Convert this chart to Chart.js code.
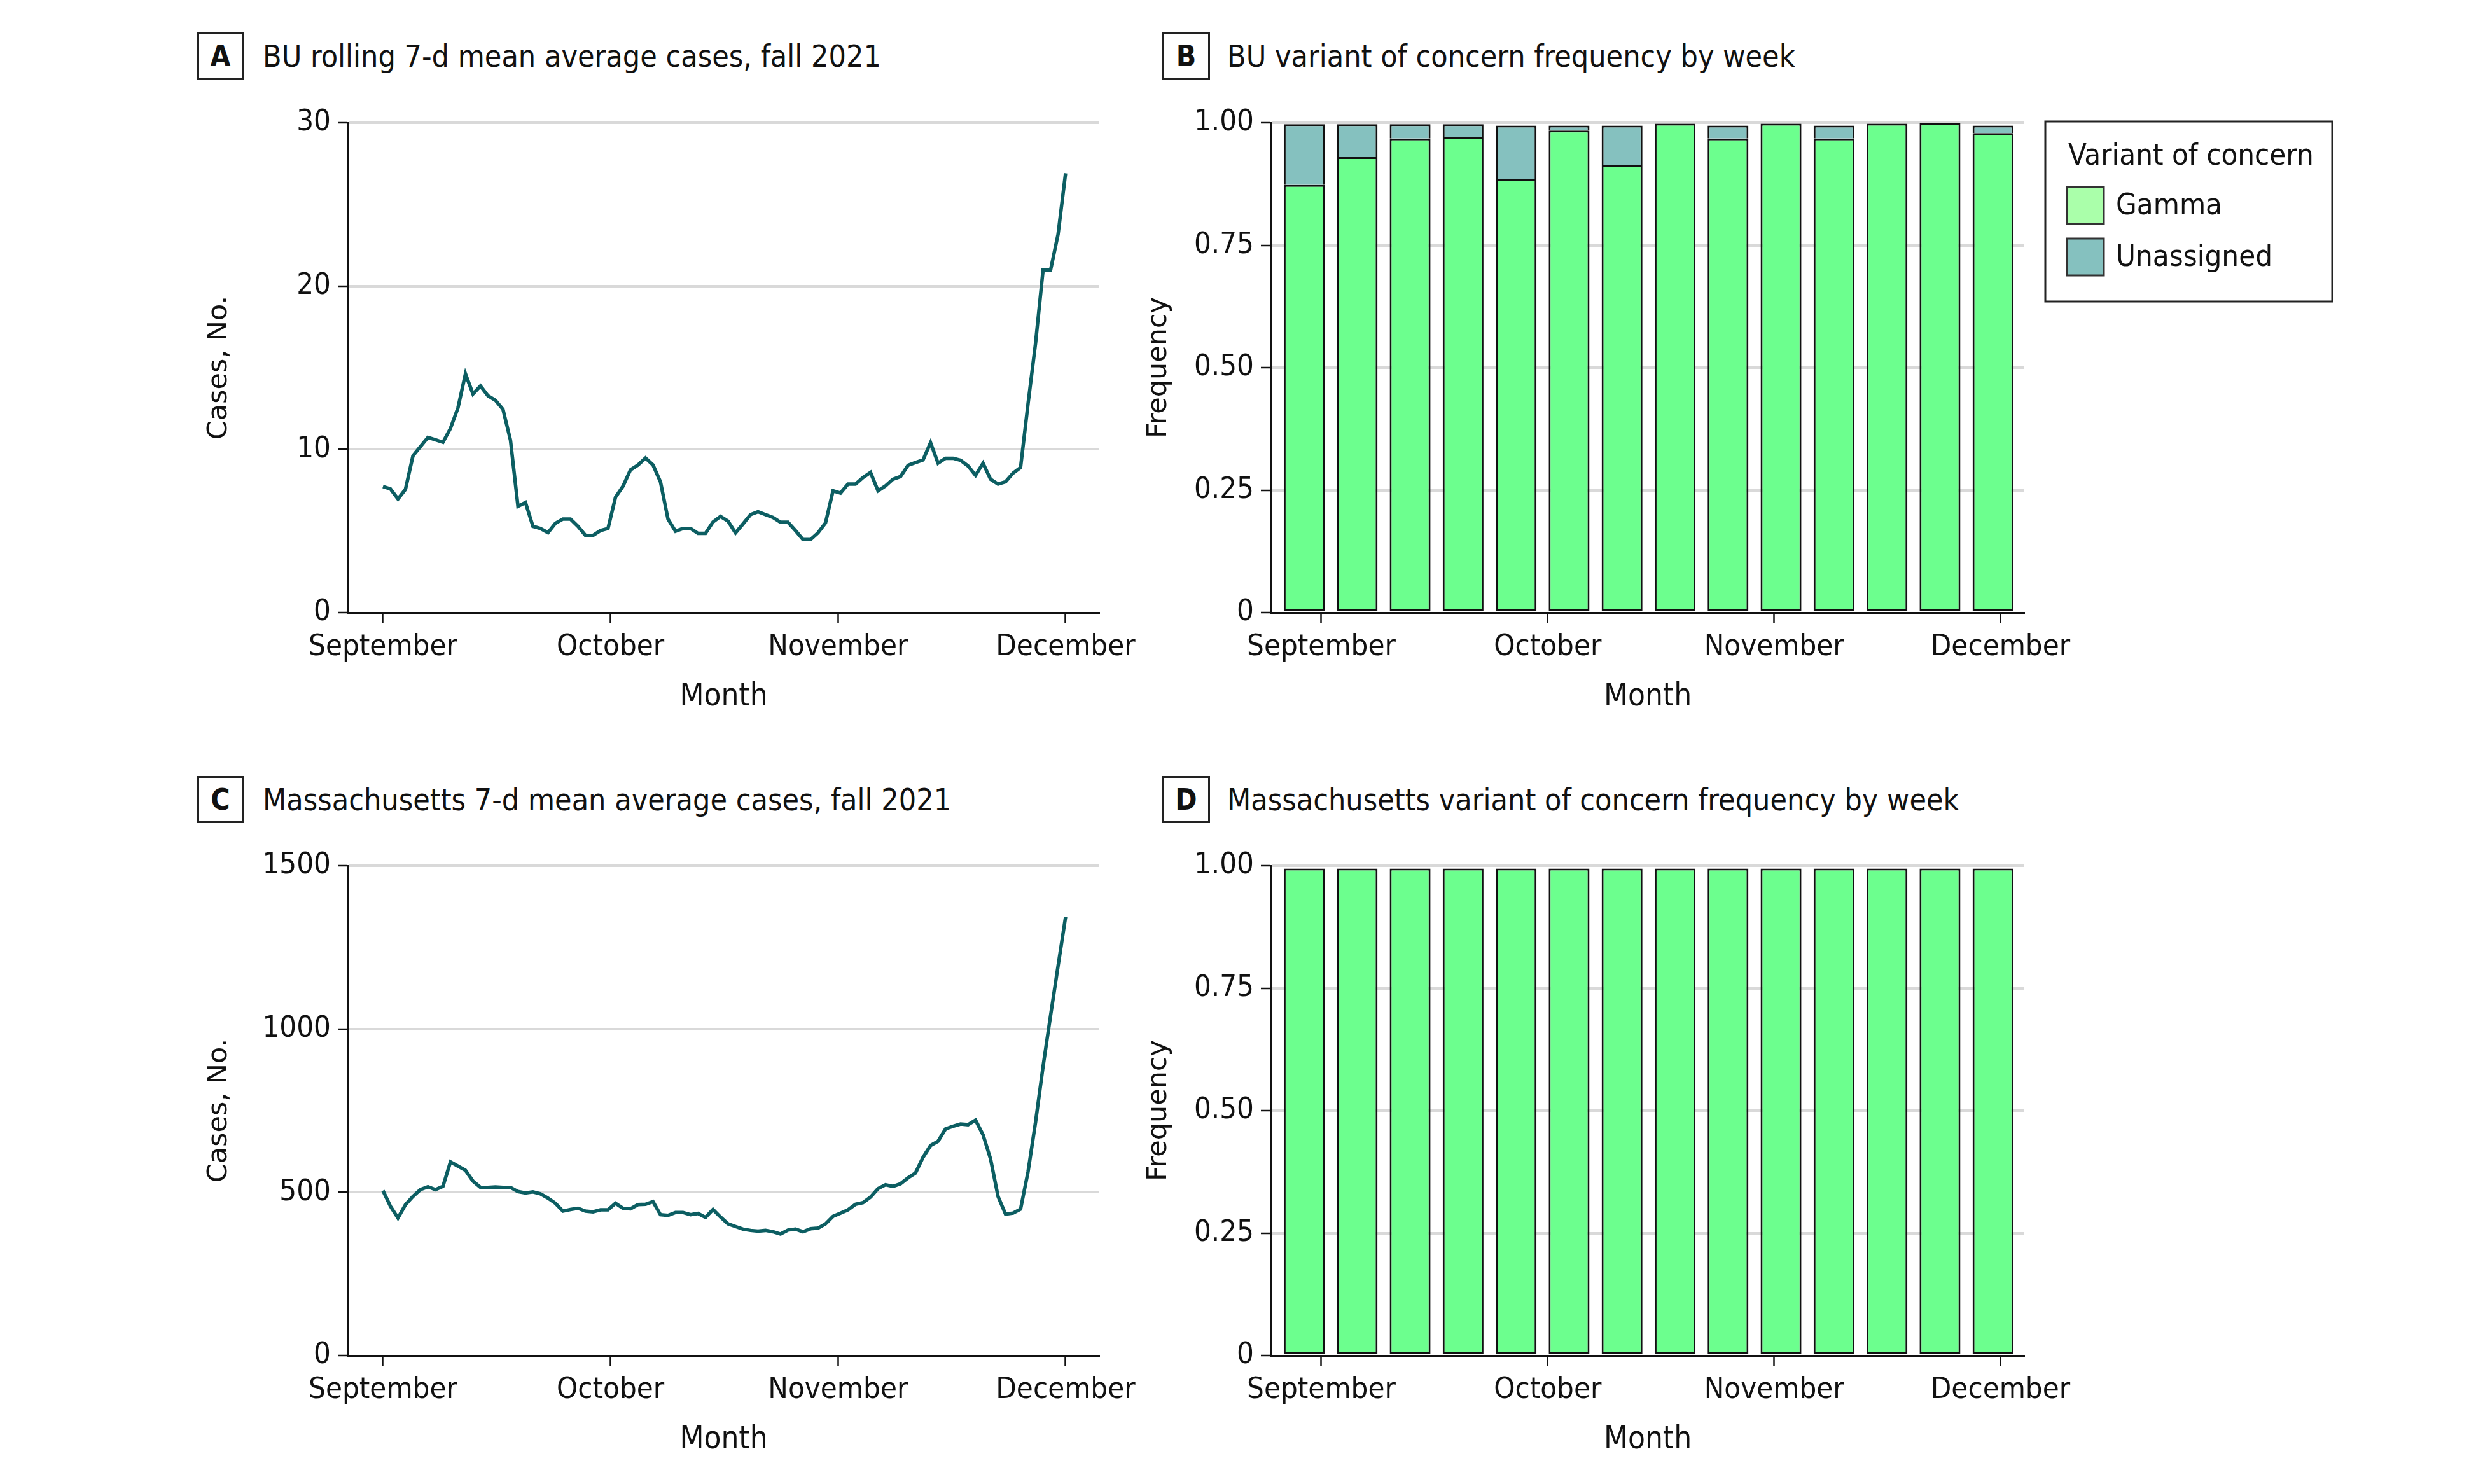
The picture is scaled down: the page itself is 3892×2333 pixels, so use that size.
<!DOCTYPE html>
<html>
<head>
<meta charset="utf-8">
<script src="https://cdn.jsdelivr.net/npm/chart.js"></script>
<style>
html, body { margin: 0; padding: 0; background: #ffffff; }
body { width: 3892px; height: 2333px; position: relative; overflow: hidden; }
canvas { position: absolute; display: block; }
.hdr { position: absolute; display: flex; align-items: center; height: 74px; }
.tag { box-sizing: border-box; width: 73px; height: 74px; border: 3px solid #222; display: flex; align-items: center; justify-content: center; font-weight: bold; font-size: 46px; font-family: "DejaVu Sans Condensed", "Liberation Sans Narrow", "Arial Narrow", sans-serif; color: #111; }
.ttl { margin-left: 30px; font-size: 48px; white-space: nowrap; font-family: "DejaVu Sans Condensed", "Liberation Sans Narrow", "Arial Narrow", sans-serif; color: #111; }
</style>
</head>
<body>
<div class="hdr" style="left:310px;top:51px"><div class="tag">A</div><div class="ttl">BU rolling 7-d mean average cases, fall 2021</div></div>
<div class="hdr" style="left:1827px;top:51px"><div class="tag" style="width:75px">B</div><div class="ttl" style="margin-left:27px">BU variant of concern frequency by week</div></div>
<div class="hdr" style="left:310px;top:1220px"><div class="tag">C</div><div class="ttl">Massachusetts 7-d mean average cases, fall 2021</div></div>
<div class="hdr" style="left:1827px;top:1220px"><div class="tag" style="width:75px">D</div><div class="ttl" style="margin-left:27px">Massachusetts variant of concern frequency by week</div></div>

<canvas id="cA" width="1600" height="1010" style="left:250px;top:150px"></canvas>
<canvas id="cB" width="1950" height="1010" style="left:1780px;top:150px"></canvas>
<canvas id="cC" width="1600" height="1010" style="left:250px;top:1318px"></canvas>
<canvas id="cD" width="1950" height="1010" style="left:1780px;top:1318px"></canvas>

<script>
// ---------------- data ----------------
const monthLabels = ['September', 'October', 'November', 'December'];
const monthTicks = [0, 30.33, 60.67, 91];

// BU rolling 7-day mean cases, one value per day from Sept 1 to Dec 1
const buCases = [7.72, 7.57, 6.96, 7.55, 9.60, 10.17, 10.73, 10.58, 10.43, 11.28,
  12.54, 14.62, 13.39, 13.88, 13.28, 13.0, 12.45, 10.56, 6.51, 6.74,
  5.28, 5.15, 4.89, 5.47, 5.73, 5.73, 5.28, 4.72, 4.72, 5.02,
  5.15, 7.06, 7.74, 8.74, 9.04, 9.47, 9.04, 8.0, 5.73, 4.98,
  5.15, 5.15, 4.85, 4.85, 5.55, 5.89, 5.6, 4.88, 5.43, 6.0,
  6.18, 6.0, 5.83, 5.53, 5.53, 5.02, 4.47, 4.47, 4.88, 5.49,
  7.46, 7.32, 7.87, 7.87, 8.27, 8.58, 7.46, 7.76, 8.17, 8.33,
  9.02, 9.19, 9.35, 10.41, 9.15, 9.45, 9.45, 9.33, 8.98, 8.41,
  9.15, 8.17, 7.87, 8.01, 8.54, 8.88, 12.8, 16.5, 20.98, 20.98,
  23.17, 26.91];

// Massachusetts 7-day mean cases, one value per day from Sept 1 to Dec 1
const maCases = [505, 457, 421, 462, 487, 508, 517, 508, 518, 593,
  580, 567, 534, 515, 515, 516, 515, 515, 502, 498,
  501, 495, 482, 466, 442, 447, 451, 442, 440, 446,
  446, 466, 451, 449, 462, 463, 471, 431, 429, 438,
  438, 431, 435, 423, 447, 424, 403, 395, 387, 383,
  381, 383, 379, 372, 384, 387, 379, 388, 390, 403,
  426, 436, 446, 463, 468, 485, 511, 523, 518, 526,
  544, 559, 607, 643, 656, 694, 702, 709, 707, 721,
  676, 602, 487, 433, 436, 448, 563, 715, 885, 1041,
  1193, 1343];

// weekly sample dates (days from Sept 1)
const weekDays = [-2.3, 4.8, 11.9, 19.0, 26.1, 33.2, 40.3, 47.4, 54.5, 61.6, 68.7, 75.8, 82.9, 90.0];

const buGamma      = [0.873, 0.930, 0.968, 0.970, 0.885, 0.984, 0.913, 0.998, 0.968, 0.998, 0.968, 0.998, 0.999, 0.979];
const buUnassigned = [0.124, 0.067, 0.029, 0.027, 0.109, 0.010, 0.081, 0.000, 0.026, 0.000, 0.026, 0.000, 0.000, 0.015];

const maGamma      = [0.994, 0.994, 0.994, 0.994, 0.994, 0.994, 0.994, 0.994, 0.994, 0.994, 0.994, 0.994, 0.994, 0.994];
const maUnassigned = [0, 0, 0, 0, 0, 0, 0, 0, 0, 0, 0, 0, 0, 0];

const buCaseTicks = [0, 10, 20, 30];
const maCaseTicks = [0, 500, 1000, 1500];
const freqTicks = [0, 0.25, 0.5, 0.75, 1];
const freqTickLabels = ['0', '0.25', '0.50', '0.75', '1.00'];

const seriesNames = ['Gamma', 'Unassigned'];
const legendTitle = 'Variant of concern';

// ---------------- styles ----------------
const FONT = '"DejaVu Sans Condensed", "Liberation Sans Narrow", "Arial Narrow", sans-serif';
const WIDE = '"DejaVu Sans", Verdana, sans-serif';
const INK = '#111111';
const GRID = '#d9d9d9';
const LINE = '#0c5e62';
const GAMMA = '#6cff8e';
const GAMMA_KEY = '#aaffaa';
const UNASSIGNED = '#85c1bf';

function xScale(min, max) {
  return {
    type: 'linear', min: min, max: max, offset: false,
    afterBuildTicks: s => { s.ticks = monthTicks.map(v => ({ value: v })); },
    afterFit: s => { s.height = 197; },
    grid: { drawOnChartArea: false, drawTicks: true, tickLength: 16, tickColor: INK, tickWidth: 2.5, offset: false },
    border: { display: true, color: INK, width: 3, z: 1 },
    ticks: { callback: (v, i) => monthLabels[i], font: { family: FONT, size: 47 }, color: INK, padding: 11, maxRotation: 0, autoSkip: false },
    title: { display: true, text: 'Month', font: { family: FONT, size: 49 }, color: INK, padding: { top: 0, bottom: 34 } }
  };
}

function yScale(max, tickVals, tickLabels, titleText, titlePad, width, stacked) {
  return {
    type: 'linear', min: 0, max: max, stacked: !!stacked,
    afterBuildTicks: s => { s.ticks = tickVals.map(v => ({ value: v })); },
    afterFit: s => { s.width = width; },
    grid: {
      color: c => (c.tick && c.tick.value === 0) ? 'rgba(0,0,0,0)' : GRID,
      lineWidth: 4, drawTicks: true, tickLength: 16, tickColor: INK, tickWidth: 2.5
    },
    border: { display: true, color: INK, width: 3, z: 1 },
    ticks: { callback: (v, i) => tickLabels[i], font: { family: FONT, size: 47 }, color: INK, padding: 11 },
    title: { display: true, text: titleText, font: { family: WIDE, size: 43 }, color: INK, padding: { top: titlePad, bottom: 0 } }
  };
}

const boxLegend = {
  id: 'boxLegend',
  afterDraw(chart, args, opts) {
    if (!opts || !opts.display) return;
    const { ctx, chartArea } = chart;
    const x0 = chartArea.right + opts.gap;
    const y0 = chartArea.top + opts.dy;
    ctx.save();
    ctx.lineWidth = 3;
    ctx.strokeStyle = '#222';
    ctx.strokeRect(x0, y0, opts.width, opts.height);
    ctx.fillStyle = INK;
    ctx.font = opts.fontSize + 'px ' + FONT;
    ctx.textAlign = 'left';
    ctx.textBaseline = 'alphabetic';
    ctx.fillText(opts.title, x0 + 36, y0 + 68);
    chart.data.datasets.forEach((ds, i) => {
      const sy = y0 + 103 + i * 81;
      ctx.fillStyle = ds.legendColor;
      ctx.fillRect(x0 + 34, sy, 58, 58);
      ctx.lineWidth = 3;
      ctx.strokeStyle = '#333';
      ctx.strokeRect(x0 + 34, sy, 58, 58);
      ctx.fillStyle = INK;
      ctx.textBaseline = 'middle';
      ctx.fillText(ds.label, x0 + 111, sy + 31);
    });
    ctx.restore();
  }
};

function lineChart(id, values, max, ticks) {
  const days = values.map((_, i) => i);
  return new Chart(document.getElementById(id), {
    type: 'line',
    data: {
      labels: days,
      datasets: [{ data: values, borderColor: LINE, borderWidth: 5.5, pointRadius: 0, fill: false, tension: 0 }]
    },
    options: {
      responsive: false, animation: false, devicePixelRatio: 1,
      layout: { padding: { left: 0, top: 43, right: 122, bottom: 0 } },
      plugins: { legend: { display: false }, tooltip: { enabled: false } },
      scales: {
        x: xScale(-4.66, 95.5),
        y: yScale(max, ticks, ticks.map(String), 'Cases, No.', 69, 297, false)
      }
    }
  });
}

function barChart(id, gamma, unassigned, showLegend) {
  return new Chart(document.getElementById(id), {
    type: 'bar',
    data: {
      labels: weekDays,
      datasets: [
        { label: seriesNames[0], data: gamma, backgroundColor: GAMMA, borderColor: INK, borderWidth: 3, borderSkipped: false,
          barPercentage: 0.77, categoryPercentage: 1.0, legendColor: GAMMA_KEY },
        { label: seriesNames[1], data: unassigned, backgroundColor: UNASSIGNED, borderColor: INK,
          borderWidth: { top: 3, left: 3, right: 3, bottom: 0 }, borderSkipped: false,
          barPercentage: 0.77, categoryPercentage: 1.0, legendColor: UNASSIGNED }
      ]
    },
    options: {
      responsive: false, animation: false, devicePixelRatio: 1,
      layout: { padding: { left: 0, top: 43, right: 548, bottom: 0 } },
      plugins: {
        legend: { display: false }, tooltip: { enabled: false },
        boxLegend: { display: showLegend, gap: 33, dy: -2, width: 451, height: 283, fontSize: 47, title: legendTitle }
      },
      scales: {
        x: Object.assign(xScale(-6.73, 94.2), { stacked: true }),
        y: yScale(1, freqTicks, freqTickLabels, 'Frequency', 16, 218, true)
      }
    },
    plugins: [boxLegend]
  });
}

lineChart('cA', buCases, 30, buCaseTicks);
barChart('cB', buGamma, buUnassigned, true);
lineChart('cC', maCases, 1500, maCaseTicks);
barChart('cD', maGamma, maUnassigned, false);
</script>
</body>
</html>
